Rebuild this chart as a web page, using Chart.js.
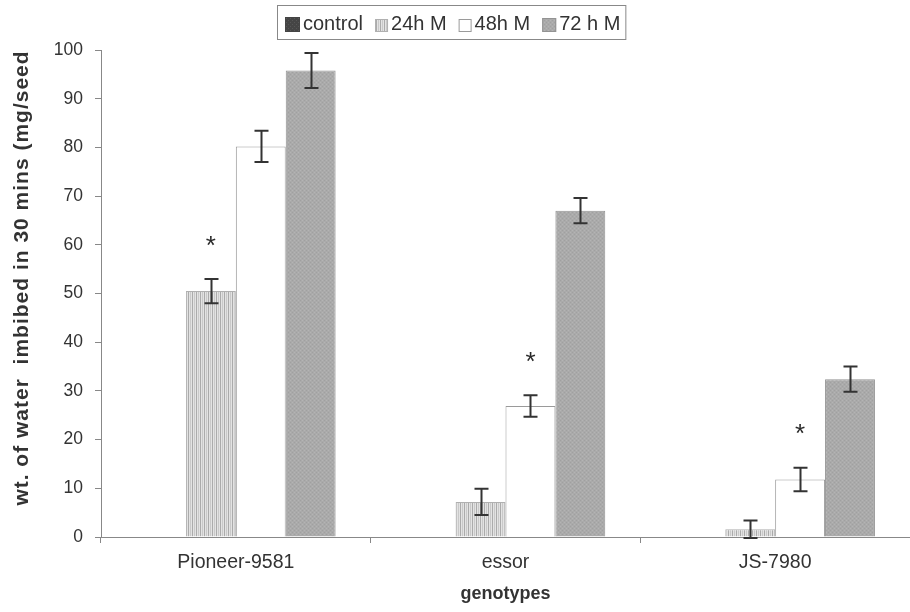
<!DOCTYPE html>
<html>
<head>
<meta charset="utf-8">
<script src="https://cdn.jsdelivr.net/npm/chart.js@4.4.1/dist/chart.umd.min.js"></script>
<style>
  html, body { margin: 0; padding: 0; background: #fff; }
  #wrap { width: 910px; height: 612px; }
</style>
</head>
<body>
<div id="wrap"><canvas id="chart" width="910" height="612"></canvas></div>
<script>
const genotypes = ["Pioneer-9581", "essor", "JS-7980"];
const seriesNames = ["control", "24h M", "48h M", "72 h M"];

const control = [0, 0, 0];
const h24 = [50.5, 7.2, 1.6];
const h48 = [80.2, 26.9, 11.8];
const h72 = [95.8, 67.0, 32.4];

const errControl = [0, 0, 0];
const err24 = [2.5, 2.7, 1.8];
const err48 = [3.2, 2.2, 2.4];
const err72 = [3.6, 2.6, 2.6];

// significance marks: [series index, genotype index, height]
const starSeries = [1, 2, 2];
const starGenotype = [0, 1, 2];
const starLevel = [60.6, 36.8, 22.0];

const yTicks = [0, 10, 20, 30, 40, 50, 60, 70, 80, 90, 100];

const FONT = "'Liberation Sans', Arial, sans-serif";
const TEXT = "#333";

function makePattern(w, h, draw) {
  const c = document.createElement("canvas");
  c.width = w; c.height = h;
  const g = c.getContext("2d");
  draw(g);
  return g.createPattern(c, "repeat");
}

const darkFill = makePattern(4, 4, g => {
  g.fillStyle = "#454545"; g.fillRect(0, 0, 4, 4);
  g.fillStyle = "#575757"; g.fillRect(0, 0, 1, 1); g.fillRect(2, 2, 1, 1);
});
const stripeFill = makePattern(4, 4, g => {
  g.fillStyle = "#e3e3e3"; g.fillRect(0, 0, 4, 4);
  g.fillStyle = "#ababab"; g.fillRect(0, 0, 1, 4);
  g.fillStyle = "#c9c9c9"; g.fillRect(2, 0, 1, 4);
});
const whiteFill = "#ffffff";
const greyFill = makePattern(4, 4, g => {
  g.fillStyle = "#aaaaaa"; g.fillRect(0, 0, 4, 4);
  g.fillStyle = "#a0a0a0"; g.fillRect(0, 0, 1, 1); g.fillRect(2, 2, 1, 1);
  g.fillStyle = "#b4b4b4"; g.fillRect(2, 0, 1, 1); g.fillRect(0, 2, 1, 1);
});

const fills = [darkFill, stripeFill, whiteFill, greyFill];
const borders = ["#444", "#b0b0b0", "#9a9a9a", "#939393"];
const values = [control, h24, h48, h72];
const errors = [errControl, err24, err48, err72];

const errorBars = {
  id: "errorBars",
  afterDatasetsDraw(chart) {
    const { ctx } = chart;
    const y = chart.scales.y;
    ctx.save();
    ctx.strokeStyle = "#333";
    ctx.lineWidth = 2;
    chart.data.datasets.forEach((ds, i) => {
      if (i === 0) return;
      chart.getDatasetMeta(i).data.forEach((bar, j) => {
        const v = ds.data[j], e = errors[i][j];
        const top = y.getPixelForValue(v + e);
        const bot = y.getPixelForValue(v - e);
        const x = Math.round(bar.x) + 0.5;
        ctx.beginPath();
        ctx.moveTo(x, top); ctx.lineTo(x, bot);
        ctx.moveTo(x - 7, top); ctx.lineTo(x + 7, top);
        ctx.moveTo(x - 7, bot); ctx.lineTo(x + 7, bot);
        ctx.stroke();
      });
    });
    // asterisks
    ctx.fillStyle = "#2a2a2a";
    ctx.font = "26px " + FONT;
    ctx.textAlign = "center";
    ctx.textBaseline = "middle";
    starSeries.forEach((s, k) => {
      const bar = chart.getDatasetMeta(s).data[starGenotype[k]];
      ctx.fillText("*", bar.x, y.getPixelForValue(starLevel[k]) + 5);
    });
    ctx.restore();
  }
};

const frameText = {
  id: "frameText",
  afterDraw(chart) {
    const { ctx, chartArea } = chart;
    ctx.save();
    // axis titles
    ctx.fillStyle = TEXT;
    ctx.font = "bold 18px " + FONT;
    ctx.textAlign = "center";
    ctx.textBaseline = "middle";
    ctx.fillText("genotypes", (chartArea.left + chartArea.right) / 2, 594);
    ctx.font = "bold 21px " + FONT;
    ctx.letterSpacing = "1px";
    ctx.translate(22, 278);
    ctx.rotate(-Math.PI / 2);
    ctx.fillText("wt. of water  imbibed in 30 mins (mg/seed", 0, 0);
    ctx.restore();

    // boxed legend
    ctx.save();
    ctx.font = "20px " + FONT;
    ctx.textBaseline = "alphabetic";
    ctx.textAlign = "left";
    let x = 285;
    const base = 30;
    const sizes = [15, 13, 13, 14];
    seriesNames.forEach((name, i) => {
      const s = sizes[i];
      ctx.fillStyle = fills[i];
      ctx.fillRect(x, base + 2 - s, s, s);
      ctx.strokeStyle = borders[i];
      ctx.lineWidth = 1;
      ctx.strokeRect(x + 0.5, base + 2.5 - s, s - 1, s - 1);
      x += s + 3;
      ctx.fillStyle = TEXT;
      ctx.fillText(name, x, base);
      x += ctx.measureText(name).width + 12;
    });
    ctx.strokeStyle = "#888";
    ctx.lineWidth = 1;
    ctx.strokeRect(277.5, 5.5, x - 277 - 7, 34);
    ctx.restore();
  }
};

new Chart(document.getElementById("chart").getContext("2d"), {
  type: "bar",
  data: {
    labels: genotypes,
    datasets: seriesNames.map((name, i) => ({
      label: name,
      data: values[i],
      backgroundColor: fills[i],
      borderColor: borders[i],
      borderWidth: 1,
      categoryPercentage: 0.74,
      barPercentage: 1.0,
    })),
  },
  options: {
    responsive: false,
    animation: false,
    events: [],
    layout: { padding: { top: 50, right: 0, left: 0, bottom: 0 } },
    plugins: {
      legend: { display: false },
      tooltip: { enabled: false },
    },
    scales: {
      x: {
        offset: true,
        grid: { display: true, offset: true, drawOnChartArea: false, tickLength: 6, color: "#888" },
        border: { color: "#888", width: 1 },
        ticks: { color: TEXT, font: { family: FONT, size: 19.5 }, padding: 8 },
        afterFit(scale) { scale.height = 75; },
      },
      y: {
        min: 0,
        max: 100,
        afterBuildTicks(scale) { scale.ticks = yTicks.map(v => ({ value: v })); },
        grid: { display: true, drawOnChartArea: false, tickLength: 6, color: "#888" },
        border: { color: "#888", width: 1 },
        ticks: { color: TEXT, font: { family: FONT, size: 17.5 }, padding: 12 },
        afterFit(scale) { scale.width = 101; },
      },
    },
  },
  plugins: [errorBars, frameText],
});
</script>
</body>
</html>
